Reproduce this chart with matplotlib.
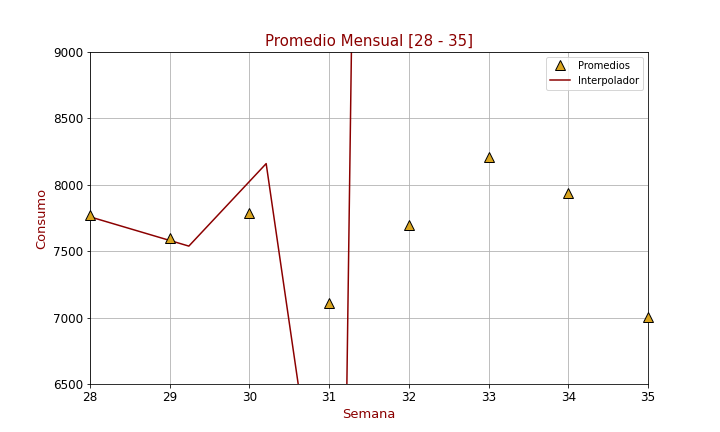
import numpy as np
import matplotlib
matplotlib.use("Agg")
import matplotlib.pyplot as plt

semanas = [28, 29, 30, 31, 32, 33, 34, 35]
promedios = [7770, 7600, 7790, 7110, 7700, 8210, 7940, 7010]

interp_x = [28, 29.24, 30.21, 31.17, 31.45]
interp_y = [7760, 7540, 8160, 4200, 16500]

fig, ax = plt.subplots(figsize=(10, 6), dpi=72)
ax.plot(semanas, promedios, '^', color='goldenrod', markeredgecolor='black',
        markersize=10, label='Promedios', clip_on=False, zorder=3)
ax.plot(interp_x, interp_y, color='darkred', label='Interpolador')
ax.set_xlim(28, 35)
ax.set_ylim(6500, 9000)
ax.grid(True)
ax.set_title('Promedio Mensual [28 - 35]', color='darkred', fontsize=15)
ax.set_xlabel('Semana', color='darkred', fontsize=13)
ax.set_ylabel('Consumo', color='darkred', fontsize=13)
ax.tick_params(labelsize=12)
ax.legend(loc='upper right')
plt.savefig('out.png')
